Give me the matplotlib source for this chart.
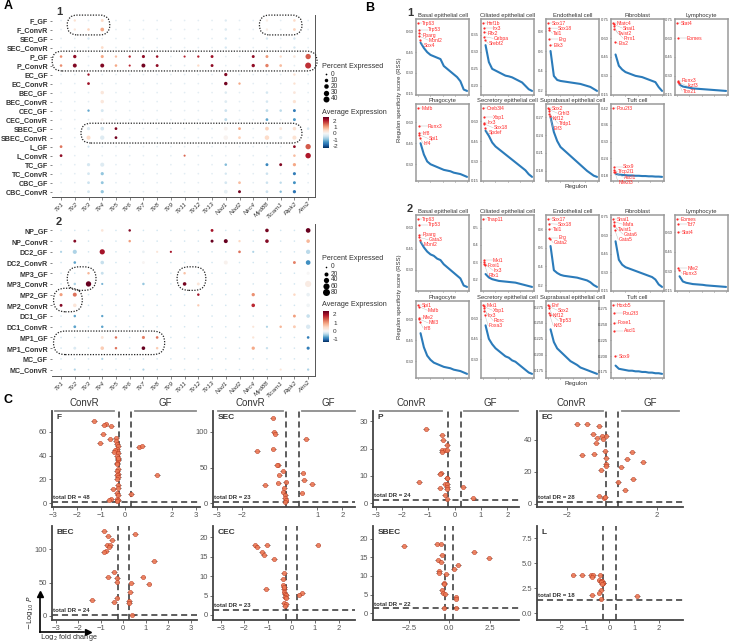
import numpy as np
import matplotlib.pyplot as plt
from matplotlib.patches import FancyBboxPatch
from matplotlib.transforms import IdentityTransform
from matplotlib.colors import TwoSlopeNorm

plt.rcParams['font.family'] = ['Liberation Sans', 'DejaVu Sans']

W, H = 731, 644

# ---------------- panel A data ----------------
GENES = ["Tlr1", "Tlr2", "Tlr3", "Tlr4", "Tlr5", "Tlr6", "Tlr7", "Tlr8", "Tlr9", "Tlr11",
         "Tlr12", "Tlr13", "Nod1", "Nod2", "Nlrc4", "Myd88", "Ticam1", "Ripk2", "Aim2"]

ROWS_A1 = ["F_GF", "F_ConvR", "SEC_GF", "SEC_ConvR", "P_GF", "P_ConvR", "EC_GF", "EC_ConvR",
           "BEC_GF", "BEC_ConvR", "CEC_GF", "CEC_ConvR", "SBEC_GF", "SBEC_ConvR", "L_GF",
           "L_ConvR", "TC_GF", "TC_ConvR", "CBC_GF", "CBC_ConvR"]

ROWS_A2 = ["NP_GF", "NP_ConvR", "DC2_GF", "DC2_ConvR", "MP3_GF", "MP3_ConvR", "MP2_GF",
           "MP2_ConvR", "DC1_GF", "DC1_ConvR", "MP1_GF", "MP1_ConvR", "MC_GF", "MC_ConvR"]

# (row, gene, percent expressed, average expression); other cells are ~1 % / ~0
DOTS_A1 = [
    ("F_GF", "Tlr2", 3, 0.4), ("F_GF", "Tlr4", 6, 0.5), ("F_GF", "Nod1", 3, -0.3),
    ("F_GF", "Myd88", 3, 0.2), ("F_GF", "Ripk2", 4, 0.5),
    ("F_ConvR", "Tlr2", 3, 0.3), ("F_ConvR", "Tlr3", 4, 0.6), ("F_ConvR", "Tlr4", 12, 1.0),
    ("F_ConvR", "Nod1", 4, -0.3), ("F_ConvR", "Myd88", 3, 0.2), ("F_ConvR", "Ripk2", 5, 0.6),
    ("SEC_GF", "Tlr3", 3, -0.4), ("SEC_GF", "Nod1", 3, -0.4), ("SEC_GF", "Myd88", 3, -0.4),
    ("SEC_GF", "Ripk2", 3, -0.4),
    ("SEC_ConvR", "Tlr4", 5, 0.5), ("SEC_ConvR", "Nod1", 3, -0.4), ("SEC_ConvR", "Ripk2", 3, -0.4),
    ("P_GF", "Tlr1", 4, 1.2), ("P_GF", "Tlr2", 9, 2.3), ("P_GF", "Tlr4", 7, 1.0),
    ("P_GF", "Tlr5", 3, 0.8), ("P_GF", "Tlr6", 3, 2.0), ("P_GF", "Tlr7", 7, 2.3),
    ("P_GF", "Tlr8", 4, 2.2), ("P_GF", "Tlr11", 2, 2.0), ("P_GF", "Tlr12", 3, 2.0),
    ("P_GF", "Tlr13", 6, 2.2), ("P_GF", "Nlrc4", 6, 2.3), ("P_GF", "Myd88", 6, 1.1),
    ("P_GF", "Ticam1", 3, 0.5), ("P_GF", "Ripk2", 4, 0.3), ("P_GF", "Aim2", 30, 1.6),
    ("P_ConvR", "Tlr1", 4, 1.2), ("P_ConvR", "Tlr2", 14, 2.4), ("P_ConvR", "Tlr4", 14, 2.4),
    ("P_ConvR", "Tlr5", 4, 1.0), ("P_ConvR", "Tlr6", 2, 2.0), ("P_ConvR", "Tlr7", 14, 2.5),
    ("P_ConvR", "Tlr8", 6, 2.3), ("P_ConvR", "Tlr12", 3, 0.5), ("P_ConvR", "Tlr13", 6, 2.3),
    ("P_ConvR", "Nlrc4", 9, 2.3), ("P_ConvR", "Myd88", 9, 1.3), ("P_ConvR", "Ticam1", 5, 0.8),
    ("P_ConvR", "Aim2", 40, 1.9),
    ("EC_GF", "Tlr3", 3, 2.2), ("EC_GF", "Nod1", 8, 2.4), ("EC_GF", "Ripk2", 3, 0.4),
    ("EC_ConvR", "Tlr3", 5, 2.2), ("EC_ConvR", "Nod1", 10, 2.5), ("EC_ConvR", "Nod2", 3, 1.0),
    ("EC_ConvR", "Ripk2", 3, 0.4),
    ("BEC_GF", "Tlr4", 10, 0.3), ("BEC_GF", "Nod1", 4, -0.3), ("BEC_GF", "Myd88", 4, -0.4),
    ("BEC_GF", "Ripk2", 5, 0.3),
    ("BEC_ConvR", "Tlr4", 10, 0.3), ("BEC_ConvR", "Nod1", 5, -0.3), ("BEC_ConvR", "Myd88", 4, -0.4),
    ("BEC_ConvR", "Ripk2", 8, 0.4),
    ("CEC_GF", "Tlr3", 3, -1.2), ("CEC_GF", "Tlr4", 6, -0.4), ("CEC_GF", "Nod1", 5, -0.5),
    ("CEC_GF", "Myd88", 5, -0.6), ("CEC_GF", "Ticam1", 4, -0.6), ("CEC_GF", "Ripk2", 6, -1.6),
    ("CEC_ConvR", "Tlr4", 5, 0.1), ("CEC_ConvR", "Nod1", 6, -0.6), ("CEC_ConvR", "Myd88", 5, -1.2),
    ("CEC_ConvR", "Ripk2", 6, -1.3),
    ("SBEC_GF", "Tlr3", 8, -0.3), ("SBEC_GF", "Tlr4", 12, -0.4), ("SBEC_GF", "Tlr5", 5, 2.4),
    ("SBEC_GF", "Nod1", 12, 0.1), ("SBEC_GF", "Nod2", 5, 1.0), ("SBEC_GF", "Myd88", 12, 0.6),
    ("SBEC_GF", "Ticam1", 6, 0.3), ("SBEC_GF", "Ripk2", 10, 0.4), ("SBEC_GF", "Aim2", 4, -0.4),
    ("SBEC_ConvR", "Tlr3", 15, 0.5), ("SBEC_ConvR", "Tlr4", 18, -0.3), ("SBEC_ConvR", "Tlr5", 5, 2.5),
    ("SBEC_ConvR", "Nod1", 20, 0.1), ("SBEC_ConvR", "Nod2", 5, 0.6), ("SBEC_ConvR", "Myd88", 20, 0.5),
    ("SBEC_ConvR", "Ticam1", 8, -0.2), ("SBEC_ConvR", "Ripk2", 15, 0.4),
    ("L_GF", "Tlr1", 5, 1.4), ("L_GF", "Tlr3", 2, -0.5), ("L_GF", "Ripk2", 5, 2.3),
    ("L_GF", "Aim2", 30, 1.6),
    ("L_ConvR", "Tlr1", 5, 2.3), ("L_ConvR", "Tlr11", 2, 1.5), ("L_ConvR", "Ripk2", 4, 0.8),
    ("L_ConvR", "Aim2", 32, 2.1),
    ("TC_GF", "Tlr3", 8, -0.4), ("TC_GF", "Tlr4", 15, -0.3), ("TC_GF", "Nod1", 4, -1.0),
    ("TC_GF", "Myd88", 6, -1.5), ("TC_GF", "Ticam1", 6, 2.4), ("TC_GF", "Ripk2", 8, 1.0),
    ("TC_ConvR", "Tlr3", 5, -0.4), ("TC_ConvR", "Tlr4", 8, -0.9), ("TC_ConvR", "Nod1", 3, -0.4),
    ("TC_ConvR", "Myd88", 4, -0.5), ("TC_ConvR", "Ripk2", 7, -1.6),
    ("CBC_GF", "Tlr3", 5, -0.5), ("CBC_GF", "Tlr4", 6, -0.9), ("CBC_GF", "Nod1", 5, -0.4),
    ("CBC_GF", "Nod2", 5, 0.8), ("CBC_GF", "Myd88", 4, -0.5), ("CBC_GF", "Ticam1", 3, -0.6),
    ("CBC_GF", "Ripk2", 6, -1.4),
    ("CBC_ConvR", "Tlr3", 5, -0.4), ("CBC_ConvR", "Tlr4", 8, -0.9), ("CBC_ConvR", "Nod1", 12, -0.2),
    ("CBC_ConvR", "Nod2", 6, 2.5), ("CBC_ConvR", "Myd88", 5, -0.5), ("CBC_ConvR", "Ticam1", 3, -1.0),
    ("CBC_ConvR", "Ripk2", 8, -1.7),
]

DOTS_A2 = [
    ("NP_GF", "Tlr4", 6, 0.3), ("NP_GF", "Tlr6", 5, 2.2), ("NP_GF", "Tlr13", 8, 2.0),
    ("NP_GF", "Myd88", 15, 2.3), ("NP_GF", "Aim2", 30, 2.5),
    ("NP_ConvR", "Tlr2", 8, 2.2), ("NP_ConvR", "Tlr6", 5, 1.0), ("NP_ConvR", "Tlr13", 9, 2.4),
    ("NP_ConvR", "Nod1", 20, 2.5), ("NP_ConvR", "Nod2", 4, 0.5), ("NP_ConvR", "Myd88", 15, 2.2),
    ("NP_ConvR", "Aim2", 15, 0.8),
    ("DC2_GF", "Tlr1", 3, -0.4), ("DC2_GF", "Tlr2", 22, -0.4), ("DC2_GF", "Tlr4", 40, 2.0),
    ("DC2_GF", "Tlr7", 6, -0.1), ("DC2_GF", "Tlr8", 3, 0.3), ("DC2_GF", "Tlr9", 3, 2.0),
    ("DC2_GF", "Nod2", 6, 1.3), ("DC2_GF", "Nlrc4", 3, -0.4), ("DC2_GF", "Aim2", 25, -0.35),
    ("DC2_ConvR", "Tlr2", 6, -0.7), ("DC2_ConvR", "Tlr4", 15, -0.3), ("DC2_ConvR", "Tlr7", 8, 0.05),
    ("DC2_ConvR", "Nod1", 20, 0.1), ("DC2_ConvR", "Ripk2", 8, 1.2), ("DC2_ConvR", "Aim2", 30, -0.8),
    ("MP3_GF", "Tlr3", 5, 0.8), ("MP3_GF", "Tlr4", 8, -0.3), ("MP3_GF", "Tlr11", 5, 0.7),
    ("MP3_GF", "Aim2", 10, 0.0),
    ("MP3_ConvR", "Tlr2", 5, -0.4), ("MP3_ConvR", "Tlr3", 42, 2.5), ("MP3_ConvR", "Tlr4", 3, -0.6),
    ("MP3_ConvR", "Tlr7", 5, -0.5), ("MP3_ConvR", "Tlr11", 15, 2.3), ("MP3_ConvR", "Tlr12", 8, 0.3),
    ("MP3_ConvR", "Aim2", 60, 0.2),
    ("MP2_GF", "Tlr1", 10, 1.0), ("MP2_GF", "Tlr2", 20, 1.3), ("MP2_GF", "Tlr12", 5, 2.0),
    ("MP2_GF", "Nlrc4", 12, 1.1), ("MP2_GF", "Ripk2", 5, 0.5), ("MP2_GF", "Aim2", 15, -0.1),
    ("MP2_ConvR", "Tlr1", 8, 2.2), ("MP2_ConvR", "Tlr2", 15, 0.3), ("MP2_ConvR", "Tlr12", 4, 0.6),
    ("MP2_ConvR", "Nlrc4", 15, 1.8), ("MP2_ConvR", "Aim2", 15, -0.05),
    ("DC1_GF", "Tlr2", 5, -0.7), ("DC1_GF", "Tlr4", 4, -0.7), ("DC1_GF", "Ripk2", 8, 1.0),
    ("DC1_GF", "Aim2", 15, -0.3),
    ("DC1_ConvR", "Tlr2", 7, -0.7), ("DC1_ConvR", "Tlr4", 5, -0.7), ("DC1_ConvR", "Nlrc4", 3, 0.3),
    ("DC1_ConvR", "Myd88", 3, -0.4), ("DC1_ConvR", "Ticam1", 5, 0.8), ("DC1_ConvR", "Ripk2", 8, 0.6),
    ("DC1_ConvR", "Aim2", 25, -0.2),
    ("MP1_GF", "Tlr4", 8, 0.3), ("MP1_GF", "Tlr5", 5, 1.3), ("MP1_GF", "Tlr7", 10, 1.2),
    ("MP1_GF", "Tlr8", 6, 1.3), ("MP1_GF", "Nlrc4", 4, 0.3), ("MP1_GF", "Aim2", 6, -0.9),
    ("MP1_ConvR", "Tlr2", 8, -0.2), ("MP1_ConvR", "Tlr4", 15, 0.6), ("MP1_ConvR", "Tlr5", 5, 1.3),
    ("MP1_ConvR", "Tlr7", 15, 2.4), ("MP1_ConvR", "Tlr8", 5, 0.6), ("MP1_ConvR", "Nlrc4", 12, 0.9),
    ("MP1_ConvR", "Myd88", 4, -0.3), ("MP1_ConvR", "Aim2", 10, -0.9),
    ("MC_GF", "Tlr4", 3, -0.4),
    ("MC_ConvR", "Tlr2", 3, -0.4), ("MC_ConvR", "Tlr7", 3, -0.4), ("MC_ConvR", "Ticam1", 3, 0.3),
    ("MC_ConvR", "Aim2", 4, -0.4),
]

# ---------------- panel B data ----------------
B_TITLES = ["Basal epithelial cell", "Ciliated epithelial cell", "Endothelial cell", "Fibroblast",
            "Lymphocyte", "Phagocyte", "Secretory epithelial cell", "Suprabasal epithelial cell",
            "Tuft cell"]

B1_NAMES = [["Trp63", "Trp53", "Pparg", "Mbnl2", "Sox4"],
            ["Hnf1b", "Irx3", "Rfx2", "Cebpa", "Srebf2"],
            ["Sox17", "Sox18", "Tal1", "Erg", "Elk3"],
            ["Nfatc4", "Snai1", "Twist2", "Prrx1", "Ets2"],
            ["Stat4", "Eomes", "Runx3", "Ikzf3", "Tbx21"],
            ["Mafb", "Runx3", "Irf8", "Spi1", "Irf4"],
            ["Creb3l4", "Xbp1", "Irx3", "Sox18", "Spdef"],
            ["Sox2", "Grhl3", "Klf12", "Tfdp1", "Elf3"],
            ["Pou2f3", "Sox9", "Tfcp2l1", "Ascl1", "Nfe2l3"]]
B1_TOP = [[0.66, 0.61, 0.59, 0.565, 0.54],
          [0.385, 0.37, 0.36, 0.345, 0.335],
          [0.88, 0.83, 0.81, 0.72, 0.66],
          [0.72, 0.71, 0.70, 0.67, 0.57],
          [0.72, 0.60, 0.26, 0.25, 0.24],
          [0.70, 0.57, 0.52, 0.51, 0.49],
          [0.70, 0.63, 0.59, 0.58, 0.55],
          [0.285, 0.283, 0.28, 0.275, 0.272],
          [0.42, 0.21, 0.20, 0.19, 0.19]]
B1_CURVES = [[0.52, 0.48, 0.45, 0.43, 0.42, 0.41, 0.40, 0.35, 0.33, 0.31, 0.29, 0.27, 0.24, 0.18, 0.17],
             [0.32, 0.27, 0.25, 0.245, 0.24, 0.235, 0.23, 0.228, 0.225, 0.22, 0.215, 0.21, 0.20, 0.19, 0.185],
             [0.60, 0.35, 0.31, 0.30, 0.295, 0.29, 0.285, 0.28, 0.275, 0.27, 0.26, 0.25, 0.24, 0.22, 0.20],
             [0.47, 0.38, 0.35, 0.33, 0.32, 0.31, 0.30, 0.295, 0.29, 0.28, 0.27, 0.26, 0.25, 0.21, 0.18],
             [0.23, 0.215, 0.21, 0.205, 0.20, 0.198, 0.196, 0.194, 0.192, 0.19, 0.188, 0.186, 0.184, 0.182, 0.18],
             [0.45, 0.37, 0.32, 0.30, 0.29, 0.28, 0.27, 0.26, 0.255, 0.25, 0.24, 0.235, 0.23, 0.22, 0.21],
             [0.53, 0.49, 0.44, 0.41, 0.39, 0.37, 0.35, 0.33, 0.31, 0.29, 0.27, 0.25, 0.23, 0.20, 0.18],
             [0.27, 0.245, 0.23, 0.22, 0.215, 0.21, 0.205, 0.20, 0.195, 0.19, 0.185, 0.18, 0.176, 0.172, 0.17],
             [0.185, 0.182, 0.181, 0.180, 0.179, 0.179, 0.178, 0.178, 0.177, 0.177, 0.176, 0.176, 0.175, 0.175, 0.174]]

B2_NAMES = [["Trp63", "Trp53", "Pparg", "Gata3", "Mbnl2"],
            ["Thap11", "Mxi1", "Foxi1", "Irx3", "Rfx1"],
            ["Sox17", "Sox18", "Tal1", "Erg", "Gata2"],
            ["Snai1", "Mafa", "Twist1", "Gata6", "Gata5"],
            ["Eomes", "Tcf7", "Stat4", "Nfe2", "Runx3"],
            ["Spi1", "Mafb", "Nfe2", "Nfil3", "Irf8"],
            ["Mxi1", "Xbp1", "Irx3", "Rorc", "Foxa3"],
            ["Ehf", "Sox2", "Klf12", "Trp53", "Klf3"],
            ["Hoxb5", "Pou2f3", "Foxe1", "Ascl1", "Sox9"]]
B2_TOP = [[0.66, 0.62, 0.55, 0.53, 0.51],
          [0.55, 0.31, 0.30, 0.29, 0.28],
          [0.91, 0.86, 0.80, 0.71, 0.70],
          [0.73, 0.71, 0.68, 0.67, 0.64],
          [0.70, 0.66, 0.60, 0.32, 0.31],
          [0.70, 0.69, 0.61, 0.60, 0.58],
          [0.70, 0.69, 0.68, 0.66, 0.63],
          [0.278, 0.276, 0.274, 0.266, 0.262],
          [0.28, 0.267, 0.252, 0.24, 0.20]]
B2_CURVES = [[0.50, 0.46, 0.43, 0.41, 0.40, 0.38, 0.37, 0.34, 0.32, 0.30, 0.28, 0.26, 0.24, 0.19, 0.18],
             [0.23, 0.21, 0.20, 0.195, 0.19, 0.188, 0.186, 0.184, 0.182, 0.18, 0.175, 0.17, 0.165, 0.16, 0.155],
             [0.62, 0.36, 0.33, 0.31, 0.30, 0.295, 0.29, 0.285, 0.28, 0.27, 0.26, 0.25, 0.23, 0.20, 0.18],
             [0.55, 0.40, 0.36, 0.34, 0.33, 0.32, 0.31, 0.30, 0.29, 0.28, 0.27, 0.26, 0.24, 0.20, 0.18],
             [0.26, 0.22, 0.21, 0.205, 0.20, 0.198, 0.196, 0.194, 0.19, 0.188, 0.186, 0.184, 0.182, 0.18, 0.178],
             [0.50, 0.40, 0.34, 0.31, 0.29, 0.28, 0.27, 0.26, 0.255, 0.25, 0.24, 0.235, 0.23, 0.22, 0.21],
             [0.55, 0.45, 0.41, 0.38, 0.36, 0.34, 0.32, 0.31, 0.29, 0.28, 0.26, 0.24, 0.22, 0.20, 0.19],
             [0.24, 0.22, 0.21, 0.205, 0.20, 0.195, 0.19, 0.187, 0.184, 0.18, 0.178, 0.176, 0.174, 0.172, 0.17],
             [0.185, 0.180, 0.179, 0.178, 0.177, 0.177, 0.176, 0.176, 0.175, 0.175, 0.174, 0.174, 0.173, 0.173, 0.172]]

# ---------------- panel C data (log2 fold change, -log10 P) ----------------
F_X = [-1.29, -0.80, -0.88, -0.56, -0.91, -0.63, -1.05, -0.35, -0.35, -0.30, -0.28, -0.32, -0.30,
       -0.27, -0.31, -0.29, -0.28, -0.30, -0.27, -0.32, -0.29, -0.30, -0.28, -0.31, -0.29, -0.27,
       -0.30, -0.28, -0.32, -0.29, -0.30, -0.28, 0.60, 0.74, 1.36, 0.28, -0.50, -0.56, -0.65,
       -0.40, -0.45, -0.33]
F_Y = [69, 67, 66, 65, 58, 54, 51, 55, 52, 50, 48, 46, 44, 42, 40, 37, 36, 34, 29, 27, 25, 24,
       22, 20, 15, 13, 9, 7, 4, 3, 2, 38, 47, 48, 24, 7.5, 12, 4, 3, 45, 43, 33]
SEC_X = [-0.79, -0.73, -0.68, -1.40, -0.76, -0.56, -0.63, -0.39, -0.52, -0.56, -0.27, -1.09,
         -0.32, -0.36, -0.28, -0.29, -0.27, -0.28, 0.55, 0.41, 0.47, 0.77, 0.37]
SEC_Y = [119.5, 99, 97, 73, 76, 54, 53, 45, 40, 28, 30, 25, 21, 16, 12, 7, 4, 2, 90, 43, 32, 27, 15]
P_X = [-1.10, -0.48, -0.43, -0.29, -0.47, -0.37, -0.49, -0.53, -0.57, -0.29, -1.34, -0.37, -0.28,
       -0.56, -0.28, -0.29, -0.37, -0.28, 0.33, 0.71, -0.30, -0.31]
P_Y = [27.3, 24.9, 23.0, 21.4, 19.5, 19.5, 18.8, 11.2, 10.6, 9.1, 7.9, 7.0, 7.0, 5.7, 6.0, 5.1,
       3.0, 1.5, 6.0, 2.1, 19.3, 9.4]
EC_X = [-1.55, -1.12, -0.57, -0.84, -0.43, -0.27, -0.66, -0.42, -0.72, -0.31, -1.36, -0.81, -0.27,
        -0.28, -0.28, -0.51, 0.90, 0.66, 1.37, 0.39, 0.93, 0.28, 0.60, -0.57, -0.34, -0.31]
EC_Y = [50, 49.8, 48.3, 43.2, 42.1, 42.4, 40.7, 40.3, 37.6, 33, 30.2, 31, 28.7, 24.8, 23.8, 21,
        32, 28.1, 26.2, 22.7, 15.3, 13.6, 8.9, 5.0, 3.9, 4.5]
BEC_X = [-0.85, 0.52, -0.67, -0.52, -0.71, -0.60, -0.62, -0.77, -0.86, 1.38, -0.40, -0.67, -0.27,
         -0.30, 0.86, 0.33, 1.13, 0.30, -1.41, -0.30, -0.40, 0.27, 0.25, 0.40]
BEC_Y = [127.5, 123, 120, 114, 107, 106.5, 103, 98, 96, 83, 66, 59, 57.5, 51.5, 59, 49, 47.5,
         36.5, 24, 26.5, 21, 22.5, 20, 1.5]
CEC_X = [-1.55, -1.45, -1.05, -1.26, -1.15, -0.74, -0.31, -0.37, -0.34, -0.31, -0.30, -0.27, -0.23,
         -0.27, -0.23, -0.31, -0.24, -1.09, 1.11, 0.44, 0.34, -0.31, -0.28]
CEC_Y = [17.9, 17.4, 17.9, 16.3, 15.5, 14.3, 10.9, 9.2, 7.7, 6.6, 6.0, 5.4, 5.1, 4.7, 4.3, 3.2, 2.8,
         6.8, 17.9, 5.6, 5.1, 7.1, 2.4]
SBEC_X = [-2.79, -0.79, -0.54, -0.45, -0.70, -0.50, 0.31, 0.56, -0.66, -0.66, -0.23, -0.33, -0.33,
          -0.48, -0.41, -0.25, 0.39, 0.39, 1.55, 2.46, -0.33, 0.41]
SBEC_Y = [18.1, 18.6, 18.5, 15.6, 14.3, 13.7, 11.9, 12.9, 11.4, 10.9, 10.6, 8.2, 7.8, 6.3, 5.5, 5.2,
          4.5, 3.9, 16.5, 14.7, 1.5, 1.5]
L_X = [-1.45, -1.12, -0.75, -0.67, -0.38, -0.71, -0.40, -0.35, -0.30, -0.26, -0.24, -0.35, -0.40,
       -0.71, -0.35, 1.10, -0.33, -0.29]
L_Y = [3.83, 3.83, 3.83, 3.83, 3.83, 3.6, 3.33, 3.23, 3.2, 3.07, 3.0, 2.33, 2.0, 1.83, 1.4, 1.73,
       3.1, 2.95]
C_NAMES = ["F", "SEC", "P", "EC", "BEC", "CEC", "SBEC", "L"]
C_TOTAL = [48, 23, 24, 28, 24, 23, 22, 18]

# ---------------- helpers ----------------
fig = plt.figure(figsize=(W / 100, H / 100), dpi=100)
CMAP = plt.cm.RdBu_r
DARK = "#333333"


def px_axes(x0, y0, x1, y1):
    """axes from pixel box (y measured from the top)"""
    return fig.add_axes([x0 / W, 1 - y1 / H, (x1 - x0) / W, (y1 - y0) / H])


def ftext(x, y, s, **kw):
    fig.text(x / W, 1 - y / H, s, **kw)


def dot_panel(ax, rows, dots, pct_max, dmax, norm):
    n = len(rows)
    pct = np.full((n, len(GENES)), 0.8)
    avg = np.full((n, len(GENES)), -0.25)
    for r, g, p, a in dots:
        pct[rows.index(r), GENES.index(g)] = p
        avg[rows.index(r), GENES.index(g)] = a
    xx, yy = np.meshgrid(np.arange(len(GENES)), np.arange(n))
    d = 1.0 + (dmax - 1.0) * np.sqrt(pct / pct_max)
    ax.scatter(xx.ravel(), yy.ravel(), s=((d * 0.72) ** 2).ravel(), c=avg.ravel(),
               cmap=CMAP, norm=norm, linewidths=0)
    ax.set_ylim(n - 1 + 0.6, -0.6)
    ax.set_xlim(-0.66, len(GENES) - 1 + 0.5)
    ax.set_yticks(range(n))
    ax.set_yticklabels(rows, fontsize=5.1, fontweight="bold", color=DARK)
    ax.set_xticks(range(len(GENES)))
    ax.set_xticklabels(GENES, fontsize=4.6, style="italic", rotation=45, ha="right",
                       rotation_mode="anchor", color=DARK)
    ax.tick_params(length=1.8, width=0.5, pad=1.2, colors="#555555", labelcolor=DARK)
    for side in ["top", "left"]:
        ax.spines[side].set_visible(False)
    for side in ["bottom", "right"]:
        ax.spines[side].set_color("#555555")
        ax.spines[side].set_linewidth(0.7)


def round_box(ax, c0, c1, r0, r1):
    """dotted rounded outline around columns c0..c1 and rows r0..r1"""
    (x0, y0) = ax.transData.transform((c0 - 0.55, r1 + 0.6))
    (x1, y1) = ax.transData.transform((c1 + 0.55, r0 - 0.6))
    rad = (y1 - y0) / 2.0
    p = FancyBboxPatch((x0, y0), x1 - x0, y1 - y0,
                       boxstyle="round,pad=0,rounding_size=%f" % rad,
                       transform=IdentityTransform(), fill=False, ec="#222222",
                       lw=0.9, ls=(0, (1, 1.2)), clip_on=False)
    fig.add_artist(p)


def dot_legend(x, y_title, sizes, pct_max, dmax, y_sizes, y_cbar_title, cb_top, cb_bot,
               vmin, vmax, ticks, norm):
    ftext(x, y_title, "Percent Expressed", fontsize=5.2, va="center", color=DARK)
    for s, yy in zip(sizes, y_sizes):
        d = 1.0 + (dmax - 1.0) * np.sqrt(max(s, 0.8) / pct_max)
        fig.add_artist(plt.Line2D([(x + 4) / W], [1 - yy / H], marker="o", ms=d * 0.72,
                                  color="black", mew=0, transform=fig.transFigure))
        ftext(x + 9, yy, str(s), fontsize=4.8, va="center", color=DARK)
    ftext(x, y_cbar_title, "Average Expression", fontsize=5.2, va="center", color=DARK)
    cax = px_axes(x + 1, cb_top, x + 7, cb_bot)
    grad = np.linspace(vmax, vmin, 100).reshape(-1, 1)
    cax.imshow(grad, aspect="auto", cmap=CMAP, norm=norm, extent=[0, 1, vmin, vmax])
    cax.set_xticks([])
    cax.yaxis.tick_right()
    cax.set_yticks(ticks)
    cax.set_yticklabels([str(t) for t in ticks], fontsize=4.6, color=DARK)
    cax.tick_params(axis="y", length=1.5, width=0.5, pad=1.5, colors="white", labelcolor=DARK)
    for sp in cax.spines.values():
        sp.set_visible(False)


def rss_panel(ax, title, names, top, curve):
    n_all = 200
    n_top = len(top)
    x_top = np.arange(1, n_top + 1) * 1.5
    x_curve = np.linspace(n_top * 1.5 + 3, n_all, len(curve))
    allv = list(top) + list(curve)
    lo, hi = min(allv), max(allv)
    span = hi - lo
    ax.plot(x_curve, curve, color="#2b7bba", lw=1.5, solid_capstyle="round")
    ax.scatter(x_top, top, s=2.5, color="#ff2a2a", zorder=3, linewidths=0)
    # labels stacked downward, ggrepel-like
    ly = []
    for v in top:
        yv = v if not ly else min(v, ly[-1] - span * 0.075)
        ly.append(yv)
    for i, (nm, v, yv) in enumerate(zip(names, top, ly)):
        tx = x_top[i] + 14 + (i % 2) * 22
        ax.plot([x_top[i], tx], [v, yv], color="#bbbbbb", lw=0.3)
        ax.text(tx + 1, yv, nm, fontsize=3.6, color="#ff2a2a", va="center")
    ax.set_ylim(lo - span * 0.06, hi + span * 0.06)
    ax.set_xlim(-8, n_all + 8)
    ax.set_xticks([0, 50, 100, 150, 200])
    ax.set_xticklabels([])
    ax.yaxis.set_major_locator(plt.MaxNLocator(5))
    ax.tick_params(labelsize=3.0, length=1.0, width=0.4, pad=0.8, colors="#444444")
    for sp in ax.spines.values():
        sp.set_color("#9a9a9a")
        sp.set_linewidth(1.1)
    ax.set_title(title, fontsize=4.2, pad=1.5, color=DARK)


def volcano(ax, name, xs, ys, xlim, ylim, xticks, yticks, total, header=None):
    ax.scatter(xs, ys, s=9, color="#ef7a55", edgecolors="#b8391f", linewidths=0.4,
               alpha=0.9, zorder=3)
    for xv, yv in zip(xs, ys):
        ax.plot([xv - 0.12 * (xlim[1] - xlim[0]) / 6, xv + 0.12 * (xlim[1] - xlim[0]) / 6],
                [yv, yv], color="#777777", lw=0.5, zorder=2)
    ax.axvline(-0.25, color=DARK, lw=1.1, ls=(0, (4, 2.5)))
    ax.axvline(0.25, color=DARK, lw=1.1, ls=(0, (4, 2.5)))
    ax.axhline(1.3, color=DARK, lw=1.1, ls=(0, (4, 2.5)))
    ax.set_xlim(*xlim)
    ax.set_ylim(*ylim)
    ax.set_xticks(xticks)
    ax.set_yticks(yticks)
    ax.tick_params(labelsize=5.5, length=2, width=0.6, pad=1.5, colors="#555555",
                   labelcolor="#555555")
    for side in ["top", "right"]:
        ax.spines[side].set_visible(False)
    for side in ["left", "bottom"]:
        ax.spines[side].set_color("#444444")
        ax.spines[side].set_linewidth(1.3)
    ax.text(0.03, 0.97, name, transform=ax.transAxes, fontsize=6, fontweight="bold",
            va="top", color=DARK)
    ax.text(0.01, 1.3 + 0.02 * (ylim[1] - ylim[0]), "total DR = %d" % total,
            transform=ax.get_yaxis_transform(), fontsize=4.3, fontweight="bold", color=DARK,
            va="bottom")
    if header is not None:
        (c0, c1), (g0, g1) = header
        for (a, b), lab in [((c0, c1), "ConvR"), ((g0, g1), "GF")]:
            ax.plot([a, b], [1.0, 1.0], transform=ax.transAxes, color="#8c8c8c", lw=1.3,
                    clip_on=False)
            ax.text((a + b) / 2, 1.03, lab, transform=ax.transAxes, ha="center",
                    va="bottom", fontsize=7, color=DARK)


# ---------------- panel A ----------------
norm1 = TwoSlopeNorm(vmin=-2.3, vcenter=0, vmax=2.6)
norm2 = TwoSlopeNorm(vmin=-1.3, vcenter=0, vmax=2.4)

axA1 = px_axes(52, 15.1, 315, 197.1)
dot_panel(axA1, ROWS_A1, DOTS_A1, 40, 6.0, norm1)
axA2 = px_axes(52, 224, 315, 376)
dot_panel(axA2, ROWS_A2, DOTS_A2, 80, 7.0, norm2)

round_box(axA1, 1, 3, 0, 1)
round_box(axA1, 15, 17, 0, 1)
round_box(axA1, -0.1, 18.1, 4, 5)
round_box(axA1, 2, 17, 12, 13)
round_box(axA2, 1, 2, 4, 5)
round_box(axA2, 9, 10, 4, 5)
round_box(axA2, 0, 1, 6, 7)
round_box(axA2, 0, 7, 10, 11)

dot_legend(322, 66, [0, 10, 20, 30, 40], 40, 6.0, [74, 80, 86, 93, 99], 112, 117, 148,
           -2.3, 2.6, [2, 1, 0, -1, -2], norm1)
dot_legend(322, 258, [0, 20, 40, 60, 80], 80, 7.0, [267, 274, 280, 286, 292], 305, 311, 342,
           -1.3, 2.4, [2, 1, 0, -1], norm2)

ftext(4, 6, "A", fontsize=9, fontweight="bold", va="center")
ftext(56, 12, "1", fontsize=8, fontweight="bold", va="center", color=DARK)
ftext(56, 222, "2", fontsize=8, fontweight="bold", va="center", color=DARK)

# ---------------- panel B ----------------
ftext(365, 8, "B", fontsize=9, fontweight="bold", va="center")
ftext(407, 13, "1", fontsize=8, fontweight="bold", va="center", color=DARK)
ftext(407, 209, "2", fontsize=8, fontweight="bold", va="center", color=DARK)

col_x = [416, 481, 546, 611, 675]
col_w = 53
for block, names_l, top_l, curve_l, rows_y in [
        (1, B1_NAMES, B1_TOP, B1_CURVES, [(19, 95), (104, 181)]),
        (2, B2_NAMES, B2_TOP, B2_CURVES, [(215, 291), (301, 378)])]:
    for k in range(9):
        r, c = divmod(k, 5)
        y0, y1 = rows_y[r]
        ax = px_axes(col_x[c], y0, col_x[c] + col_w, y1)
        rss_panel(ax, B_TITLES[k], names_l[k], top_l[k], curve_l[k])
    ftext(400, (rows_y[0][0] + rows_y[1][1]) / 2, "Regulon specificity score (RSS)",
          fontsize=4.3, rotation=90, ha="center", va="center", color=DARK)
    ftext(576, rows_y[1][1] + 5, "Regulon", fontsize=4.5, ha="center", va="center", color=DARK)

# ---------------- panel C ----------------
ftext(4, 400, "C", fontsize=9, fontweight="bold", va="center")

axF = px_axes(52, 411, 200, 507)
volcano(axF, "F", F_X, F_Y, (-3.05, 3.17), (-3.1, 77.5), [-3, -2, -1, 0, 2, 3], [0, 20, 40, 60],
        C_TOTAL[0], header=((0.02, 0.42), (0.56, 0.97)))
axSEC = px_axes(213, 411, 355, 507)
volcano(axSEC, "SEC", SEC_X, SEC_Y, (-3.17, 2.5), (-5.2, 129), [-3, -2, 1, 2], [0, 50, 100],
        C_TOTAL[1], header=((0.035, 0.49), (0.63, 1.0)))
axP = px_axes(373, 411, 519, 507)
volcano(axP, "P", P_X, P_Y, (-3.1, 2.44), (-1.35, 33.7), [-3, -2, -1, 0, 1, 2], [0, 10, 20, 30],
        C_TOTAL[2], header=((0.05, 0.47), (0.62, 0.99)))
axEC = px_axes(537, 411, 683, 507)
volcano(axEC, "EC", EC_X, EC_Y, (-3.36, 3.18), (-1.9, 57.8), [-2, 2], [0, 20, 40],
        C_TOTAL[3], header=((0.02, 0.45), (0.58, 0.97)))

axBEC = px_axes(52, 526, 197, 620)
volcano(axBEC, "BEC", BEC_X, BEC_Y, (-3.18, 3.29), (-6, 135), [-3, -2, -1, 0, 1, 2, 3],
        [0, 50, 100], C_TOTAL[4])
axCEC = px_axes(213, 526, 355, 620)
volcano(axCEC, "CEC", CEC_X, CEC_Y, (-3.33, 2.7), (-1.3, 22.9), [-3, -2, -1, 0, 1, 2],
        [0, 5, 10, 15, 20], C_TOTAL[5])
axSB = px_axes(373, 526, 519, 620)
volcano(axSB, "SBEC", SBEC_X, SBEC_Y, (-4.74, 4.33), (-1.8, 23.4), [-2.5, 0, 2.5],
        [0, 5, 10, 15, 20], C_TOTAL[6])
axSB.set_xticklabels(["\u22122.5", "0.0", "2.5"])
axL = px_axes(537, 526, 683, 620)
volcano(axL, "L", L_X, L_Y, (-2.92, 2.97), (-0.67, 8.73), [-2, -1, 0, 1, 2],
        [0.0, 2.5, 5.0, 7.5], C_TOTAL[7])
axL.set_yticklabels(["0.0", "2.5", "5.0", "7.5"])

# axis-title arrows
fig.add_artist(plt.Line2D([40 / W, 40 / W], [1 - 632 / H, 1 - 598 / H], color="black", lw=1.2,
                          transform=fig.transFigure))
fig.add_artist(plt.Line2D([40 / W, 84 / W], [1 - 632 / H, 1 - 632 / H], color="black", lw=1.2,
                          transform=fig.transFigure))
fig.add_artist(plt.Line2D([40 / W], [1 - 594 / H], marker="^", ms=5, color="black",
                          transform=fig.transFigure))
fig.add_artist(plt.Line2D([88 / W], [1 - 632 / H], marker=">", ms=5, color="black",
                          transform=fig.transFigure))
ftext(31, 612, r"$-\mathrm{Log}_{10}\ \mathit{P}$", fontsize=5.3, rotation=90, ha="center",
      va="center", color=DARK)
ftext(40, 637.5, r"$\mathrm{Log}_{2}$ fold change", fontsize=5.2, va="center", color=DARK)

fig.savefig("out.png", dpi=100)
